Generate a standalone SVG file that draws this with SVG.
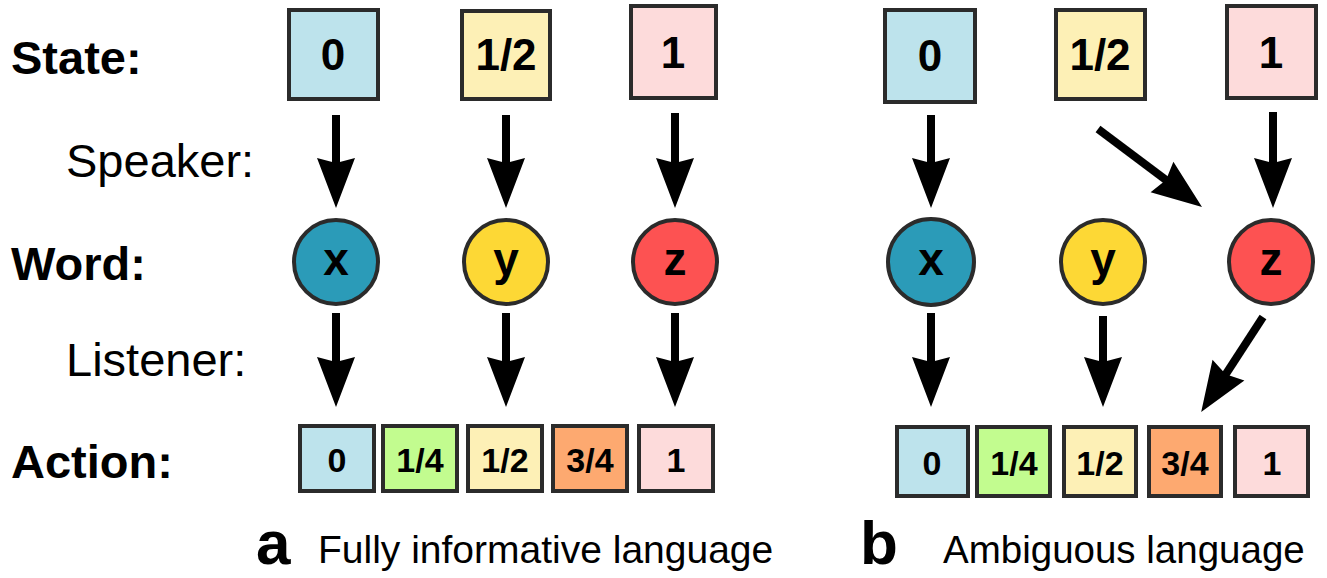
<svg xmlns="http://www.w3.org/2000/svg" width="1327" height="578" viewBox="0 0 1327 578">
  <style>
    .box { stroke: #2b2b2b; stroke-width: 4; }
    .node { stroke: #2b2b2b; stroke-width: 4; }
    .lab { font-family: "Liberation Sans", Arial, sans-serif; fill: #000; }
    .bold { font-weight: bold; }
    .nt { font-family: "Liberation Sans", Arial, sans-serif; font-weight: bold; text-anchor: middle; fill: #000; }
    .st { font-size: 44px; }
    .wt { font-size: 46px; }
    .at { font-size: 34px; }
    .shaft { stroke: #000; stroke-width: 8; fill: none; }
    .c0 { fill: #bde3ec; }
    .c14 { fill: #c2fc8f; }
    .c12 { fill: #fdf0b6; }
    .c34 { fill: #fda970; }
    .c1 { fill: #fddbdb; }
    .cx { fill: #2b9bb8; }
    .cy { fill: #fdd835; }
    .cz { fill: #fd5252; }
  </style>
  <defs>
    <marker id="head" markerUnits="userSpaceOnUse" markerWidth="60" markerHeight="44" viewBox="0 -22 60 44" refX="10" refY="0" orient="auto" overflow="visible">
      <path d="M0,-19 L50,0 L0,19 L5,0 Z" fill="#000"/>
    </marker>
  </defs>

  <rect width="1327" height="578" fill="#fff"/>

  <!-- row labels -->
  <g id="row-labels">
    <text class="lab bold" x="11" y="74" font-size="47">State:</text>
    <text class="lab" x="66" y="177" font-size="47">Speaker:</text>
    <text class="lab bold" x="11" y="280" font-size="47">Word:</text>
    <text class="lab" x="66" y="376" font-size="47">Listener:</text>
    <text class="lab bold" x="11" y="478" font-size="47">Action:</text>
  </g>

  <!-- panel a: states -->
  <g id="a-state-0"><rect class="box c0" x="289" y="10" width="89" height="89"/><text class="nt st" x="333" y="70">0</text></g>
  <g id="a-state-half"><rect class="box c12" x="462" y="11" width="88" height="88"/><text class="nt st" x="506" y="70">1/2</text></g>
  <g id="a-state-1"><rect class="box c1" x="631" y="6" width="85" height="92"/><text class="nt st" x="673" y="68">1</text></g>

  <!-- panel a: words -->
  <g id="a-word-x"><circle class="node cx" cx="336" cy="262" r="42"/><text class="nt wt" x="336" y="275">x</text></g>
  <g id="a-word-y"><circle class="node cy" cx="506" cy="262" r="42"/><text class="nt wt" x="506" y="275">y</text></g>
  <g id="a-word-z"><circle class="node cz" cx="675" cy="262" r="42"/><text class="nt wt" x="675" y="275">z</text></g>

  <!-- panel a: actions -->
  <g id="a-act-0"><rect class="box c0" x="300" y="426" width="74" height="65"/><text class="nt at" x="337" y="472">0</text></g>
  <g id="a-act-q1"><rect class="box c14" x="383" y="426" width="74" height="65"/><text class="nt at" x="420" y="472">1/4</text></g>
  <g id="a-act-half"><rect class="box c12" x="468" y="426" width="74" height="65"/><text class="nt at" x="505" y="472">1/2</text></g>
  <g id="a-act-q3"><rect class="box c34" x="553" y="426" width="74" height="65"/><text class="nt at" x="590" y="472">3/4</text></g>
  <g id="a-act-1"><rect class="box c1" x="639" y="426" width="74" height="65"/><text class="nt at" x="676" y="472">1</text></g>

  <!-- panel b: states -->
  <g id="b-state-0"><rect class="box c0" x="885" y="10" width="90" height="92"/><text class="nt st" x="930" y="71">0</text></g>
  <g id="b-state-half"><rect class="box c12" x="1056" y="10" width="89" height="89"/><text class="nt st" x="1100" y="70">1/2</text></g>
  <g id="b-state-1"><rect class="box c1" x="1227" y="6" width="89" height="92"/><text class="nt st" x="1271" y="68">1</text></g>

  <!-- panel b: words -->
  <g id="b-word-x"><circle class="node cx" cx="931" cy="262" r="43"/><text class="nt wt" x="931" y="275">x</text></g>
  <g id="b-word-y"><circle class="node cy" cx="1103" cy="262" r="42"/><text class="nt wt" x="1103" y="275">y</text></g>
  <g id="b-word-z"><circle class="node cz" cx="1271" cy="262" r="42"/><text class="nt wt" x="1271" y="275">z</text></g>

  <!-- panel b: actions -->
  <g id="b-act-0"><rect class="box c0" x="897" y="427" width="71" height="69"/><text class="nt at" x="932" y="475">0</text></g>
  <g id="b-act-q1"><rect class="box c14" x="977" y="427" width="73" height="69"/><text class="nt at" x="1014" y="475">1/4</text></g>
  <g id="b-act-half"><rect class="box c12" x="1064" y="427" width="72" height="69"/><text class="nt at" x="1100" y="475">1/2</text></g>
  <g id="b-act-q3"><rect class="box c34" x="1149" y="427" width="72" height="69"/><text class="nt at" x="1185" y="475">3/4</text></g>
  <g id="b-act-1"><rect class="box c1" x="1235" y="427" width="73" height="69"/><text class="nt at" x="1272" y="475">1</text></g>

  <!-- arrows -->
  <g id="connectors" class="shaft" marker-end="url(#head)">
    <!-- panel a, speaker -->
    <line x1="336" y1="115" x2="336" y2="168"/>
    <line x1="506" y1="115" x2="506" y2="168"/>
    <line x1="675" y1="113" x2="675" y2="168"/>
    <!-- panel a, listener -->
    <line x1="336" y1="313" x2="336" y2="367"/>
    <line x1="506" y1="313" x2="506" y2="367"/>
    <line x1="675" y1="313" x2="675" y2="367"/>
    <!-- panel b, speaker -->
    <line x1="931" y1="115" x2="931" y2="168"/>
    <line x1="1098" y1="129" x2="1170" y2="183"/>
    <line x1="1273" y1="112" x2="1273" y2="168"/>
    <!-- panel b, listener -->
    <line x1="931" y1="313" x2="931" y2="367"/>
    <line x1="1103" y1="316" x2="1103" y2="367"/>
    <line x1="1263" y1="317" x2="1223" y2="378.5"/>
  </g>

  <!-- panel captions -->
  <g id="caption-a">
    <text class="lab bold" x="256" y="564" font-size="62">a</text>
    <text class="lab" x="318" y="563" font-size="39">Fully informative language</text>
  </g>
  <g id="caption-b">
    <text class="lab bold" x="860" y="564" font-size="62">b</text>
    <text class="lab" x="943" y="563" font-size="38.5">Ambiguous language</text>
  </g>
</svg>
